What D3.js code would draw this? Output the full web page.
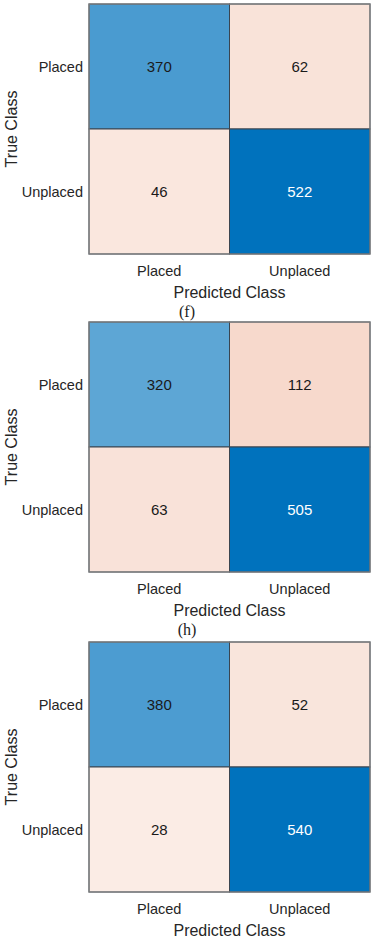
<!DOCTYPE html>
<html>
<head>
<meta charset="utf-8">
<script src="https://cdn.jsdelivr.net/npm/d3@7"></script>
<style>
  body { margin: 0; background: #fff; }
  svg { display: block; }
</style>
</head>
<body>
<div id="chart"></div>
<script>
// class labels
const classes = ["Placed", "Unplaced"];
// confusion matrices, rows = true class, cols = predicted class
const matrixF = [[370, 62], [46, 522]];
const matrixH = [[320, 112], [63, 505]];
const matrixLast = [[380, 52], [28, 540]];
const matrices = [matrixF, matrixH, matrixLast];
const captions = ["(f)", "(h)", null];

const width = 375, height = 939;
const svg = d3.select("#chart").append("svg")
    .attr("width", width)
    .attr("height", height);

const panelTops = [4, 322, 642];
const left = 89, right = 370, ph = 250;
const sans = "'Liberation Sans', Arial, sans-serif";

const diagColor = d3.scaleLinear().range(["#ffffff", "#0072BD"]);
const offColor = d3.scaleSqrt().domain([0, 2270]).range(["#ffffff", "#D95319"]).clamp(true);

matrices.forEach((m, p) => {
    const top = panelTops[p];
    const g = svg.append("g");
    const x = d3.scaleBand().domain(classes).range([left, right]);
    const y = d3.scaleBand().domain(classes).range([top, top + ph]);
    const maxDiag = d3.max(m, (r, i) => r[i]);
    diagColor.domain([0, maxDiag]);

    const cells = [];
    m.forEach((row, i) => row.forEach((v, j) => cells.push({ t: classes[i], p: classes[j], v: v, diag: i === j })));

    g.selectAll("rect.cell").data(cells).enter()
        .append("rect")
        .attr("class", "cell")
        .attr("x", d => x(d.p))
        .attr("y", d => y(d.t))
        .attr("width", x.bandwidth())
        .attr("height", y.bandwidth())
        .attr("fill", d => d.diag ? diagColor(d.v) : offColor(d.v))
        .attr("stroke", "#3a4550")
        .attr("stroke-width", 1);

    g.append("rect")
        .attr("x", left).attr("y", top)
        .attr("width", right - left).attr("height", ph)
        .attr("fill", "none")
        .attr("stroke", "#808080")
        .attr("stroke-width", 1.2);

    g.selectAll("text.val").data(cells).enter()
        .append("text")
        .attr("x", d => x(d.p) + x.bandwidth() / 2)
        .attr("y", d => y(d.t) + y.bandwidth() / 2)
        .attr("text-anchor", "middle")
        .attr("dominant-baseline", "central")
        .style("font-family", sans)
        .style("font-size", "15px")
        .attr("fill", d => (d.diag && d.v / maxDiag > 0.8) ? "#ffffff" : "#1a1a1a")
        .text(d => d.v);

    // y tick labels
    g.selectAll("text.yt").data(classes).enter()
        .append("text")
        .attr("x", left - 6)
        .attr("y", d => y(d) + y.bandwidth() / 2)
        .attr("text-anchor", "end")
        .attr("dominant-baseline", "central")
        .style("font-family", sans)
        .style("font-size", "14.5px")
        .attr("fill", "#262626")
        .text(d => d);

    // x tick labels
    g.selectAll("text.xt").data(classes).enter()
        .append("text")
        .attr("x", d => x(d) + x.bandwidth() / 2)
        .attr("y", top + ph + 17)
        .attr("text-anchor", "middle")
        .attr("dominant-baseline", "central")
        .style("font-family", sans)
        .style("font-size", "14.5px")
        .attr("fill", "#262626")
        .text(d => d);

    g.append("text")
        .attr("x", (left + right) / 2)
        .attr("y", top + ph + 38)
        .attr("text-anchor", "middle")
        .attr("dominant-baseline", "central")
        .style("font-family", sans)
        .style("font-size", "16px")
        .attr("fill", "#262626")
        .text("Predicted Class");

    g.append("text")
        .attr("transform", `translate(11,${top + ph / 2}) rotate(-90)`)
        .attr("text-anchor", "middle")
        .attr("dominant-baseline", "central")
        .style("font-family", sans)
        .style("font-size", "16px")
        .attr("fill", "#262626")
        .text("True Class");

    if (captions[p]) {
        g.append("text")
            .attr("x", 187)
            .attr("y", top + ph + 57)
            .attr("text-anchor", "middle")
            .attr("dominant-baseline", "central")
            .style("font-family", "'Liberation Serif', 'Times New Roman', serif")
            .style("font-size", "16px")
            .style("font-weight", "normal")
            .attr("fill", "#222")
            .text(captions[p]);
    }
});
</script>
</body>
</html>
